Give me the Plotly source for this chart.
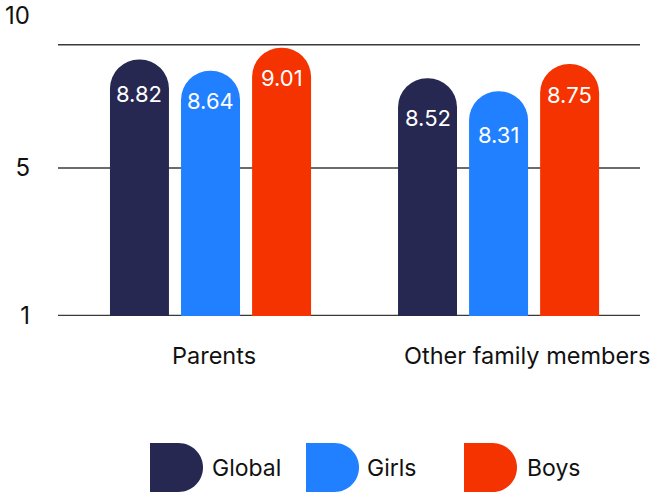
import plotly.graph_objects as go

# ---------------- data ----------------
CATEGORIES = ["Parents", "Other family members"]
SERIES_NAMES = ["Global", "Girls", "Boys"]
GLOBAL = [8.82, 8.52]
GIRLS = [8.64, 8.31]
BOYS = [9.01, 8.75]
Y_TICK_LABELS = ["1", "5", "10"]

# ---------------- style ----------------
COLORS = ["#262852", "#2080FF", "#F53300"]
FONT = "Inter, Roboto, Arial, sans-serif"
TEXT_COLOR = "#111111"
GRID_COLOR = "#3a3a3a"
W, H = 652, 495
PLOT_LEFT, PLOT_RIGHT, PLOT_TOP, PLOT_BOTTOM = 58, 640, 10, 316
# calibration of the (stylised) value scale of the reference
PX_PER_UNIT = 62.0
REF_VAL, REF_PX = 8.675, 68.6
BARGAP, BARGROUPGAP = 0.26, 0.17
# vertical offset (px) of each value label below its bar end, per series / category
LABEL_SHIFT = [[-34, -40], [-30, -44], [-30, -31]]


def px_to_val(py):
    return REF_VAL + (REF_PX - py) / PX_PER_UNIT


def px_to_paper_y(py):
    return (PLOT_BOTTOM - py) / (PLOT_BOTTOM - PLOT_TOP)


def px_to_paper_x(px):
    return (px - PLOT_LEFT) / (PLOT_RIGHT - PLOT_LEFT)


Y_MIN, Y_MAX = px_to_val(PLOT_BOTTOM), px_to_val(PLOT_TOP)
TICK_POS = [px_to_val(315.5), px_to_val(168), px_to_val(16)]
GRID_POS = [px_to_val(315.6), px_to_val(168), px_to_val(44.7)]

series = [GLOBAL, GIRLS, BOYS]

fig = go.Figure()
for name, vals, col in zip(SERIES_NAMES, series, COLORS):
    fig.add_trace(go.Bar(
        x=CATEGORIES, y=vals, name=name,
        marker=dict(color=col, line=dict(width=0), cornerradius="50%"),
        showlegend=False, hoverinfo="x+y+name",
    ))

annotations = []
slot = (1 - BARGAP) / len(series)
for i, vals in enumerate(series):
    for j, v in enumerate(vals):
        annotations.append(dict(
            x=j + (i - (len(series) - 1) / 2) * slot, y=v, xref="x", yref="y",
            text=f"{v:.2f}", showarrow=False, yshift=LABEL_SHIFT[i][j],
            font=dict(family=FONT, size=22, color="white"),
        ))

# category labels
CAT_XSHIFT = [3, 28]
for j, cat in enumerate(CATEGORIES):
    annotations.append(dict(
        x=j, y=0, xref="x", yref="paper", text=cat, showarrow=False,
        yanchor="middle", yshift=-39, xshift=CAT_XSHIFT[j],
        font=dict(family=FONT, size=23.5, color=TEXT_COLOR),
    ))

shapes = []
for gy in GRID_POS:
    shapes.append(dict(type="line", xref="paper", yref="y", x0=0, x1=1, y0=gy, y1=gy,
                       line=dict(color=GRID_COLOR, width=1.5), layer="below"))

# custom legend (D-shaped swatches)
LEG_ICON_X = [150, 306, 464]
LEG_TEXT_X = [212, 367, 527]
LEG_Y = 467.5
r = 24.5
flat = 28.5
k = 0.5523 * r
d_path = (f"M0,{-r} L{flat},{-r} C{flat + k},{-r} {flat + r},{-k} {flat + r},0 "
          f"C{flat + r},{k} {flat + k},{r} {flat},{r} L0,{r} Z")
for name, col, ix, tx in zip(SERIES_NAMES, COLORS, LEG_ICON_X, LEG_TEXT_X):
    shapes.append(dict(type="path", xref="paper", yref="paper",
                       xsizemode="pixel", ysizemode="pixel",
                       xanchor=px_to_paper_x(ix), yanchor=px_to_paper_y(LEG_Y),
                       path=d_path, fillcolor=col, line=dict(width=0)))
    annotations.append(dict(
        x=px_to_paper_x(tx), y=px_to_paper_y(LEG_Y), xref="paper", yref="paper",
        xanchor="left", yanchor="middle", text=name, showarrow=False, xshift=-2,
        font=dict(family=FONT, size=23, color=TEXT_COLOR),
    ))

fig.update_layout(
    width=W, height=H,
    margin=dict(l=PLOT_LEFT, r=W - PLOT_RIGHT, t=PLOT_TOP, b=H - PLOT_BOTTOM, pad=0,
                autoexpand=False),
    paper_bgcolor="white", plot_bgcolor="white",
    barmode="group", bargap=BARGAP, bargroupgap=BARGROUPGAP,
    font=dict(family=FONT, size=22, color=TEXT_COLOR),
    xaxis=dict(type="category", range=[-0.5295, 1.491], showticklabels=False,
               showgrid=False, zeroline=False, showline=False, ticks="",
               automargin=False),
    yaxis=dict(range=[Y_MIN, Y_MAX], tickvals=TICK_POS, ticktext=Y_TICK_LABELS,
               showgrid=False, zeroline=False, showline=False, ticks="",
               ticklabelstandoff=27, automargin=False,
               tickfont=dict(family=FONT, size=24, color=TEXT_COLOR)),
    annotations=annotations, shapes=shapes, showlegend=False,
)

fig.write_html("out.html", config={"displayModeBar": False},
               post_script="document.body.style.margin='0';")
